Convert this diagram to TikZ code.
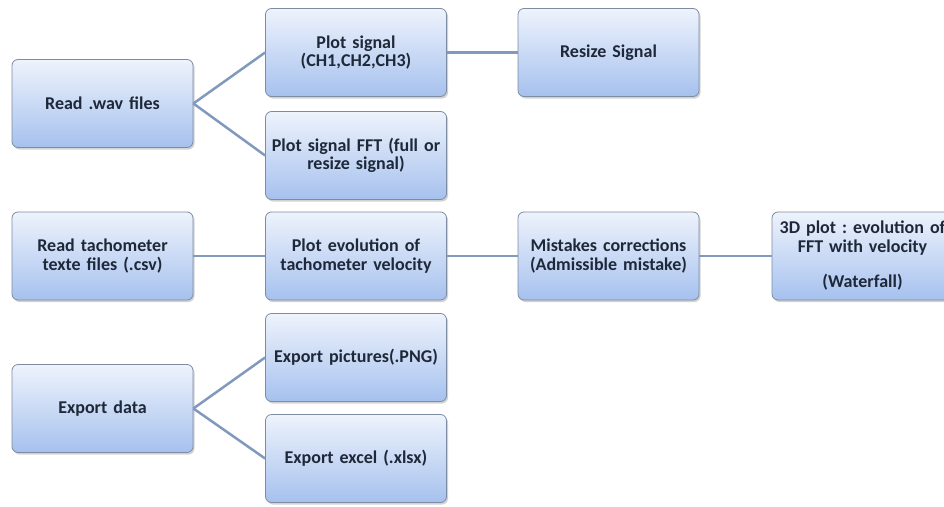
\documentclass[tikz,border=0pt]{standalone}
\usepackage{fontspec}
\setmainfont{Carlito}
\usetikzlibrary{shadows}
\definecolor{boxtop}{HTML}{EEF3FC}
\definecolor{boxbot}{HTML}{A6C1EE}
\definecolor{boxline}{HTML}{7D8CA3}
\definecolor{linkcol}{HTML}{8099BD}
\definecolor{txtcol}{HTML}{1E2838}

\tikzset{
  task/.style={draw=boxline, line width=0.8pt, rounded corners=6pt,
    top color=boxtop, bottom color=boxbot,
    minimum width=181pt, minimum height=88pt, text width=175pt, inner xsep=3pt,
    align=center, font=\bfseries\fontsize{18}{18.5}\selectfont\frenchspacing, text=txtcol,
    drop shadow={opacity=0.35, shadow xshift=1.5pt, shadow yshift=-2pt}},
  link/.style={draw=linkcol, line width=2.5pt}
}

\begin{document}
\begin{tikzpicture}[x=1pt, y=-1pt]
      \fill[white] (0, 0) rectangle (944, 506);
      \useasboundingbox (0, 0) rectangle (944, 506);
      % reading the sound files
      \node[task] (readwav) at (102.5, 103.5) {Read .wav files};
      \node[task] (plotsig) at (356, 52.5) {Plot signal\\(CH1,CH2,CH3)};
      \node[task] (plotfft) at (356, 155.5) {\mbox{Plot signal FFT (full or}\\resize signal)};
      \node[task] (resize) at (608.5, 52.5) {Resize Signal};
      % tachometer row
      \node[task] (readtach) at (102.5, 256) {Read tachometer\\texte files (.csv)};
      \node[task] (plotvel) at (356, 256) {Plot evolution of\\tachometer velocity};
      \node[task] (mistakes) at (608.5, 256) {Mistakes corrections\\(Admissible mistake)};
      \node[task] (waterfall) at (862.5, 256) {\makebox[\linewidth]{3D plot : evolution of}\\FFT with velocity\\[17pt](Waterfall)};
      % export
      \node[task] (export) at (102.5, 408.5) {Export data};
      \node[task] (exportpng) at (356, 357.5) {Export pictures(.PNG)};
      \node[task] (exportxls) at (356, 458.5) {Export excel (.xlsx)};
      \draw[link] (readwav.east) -- (plotsig.west);
      \draw[link] (readwav.east) -- (plotfft.west);
      \draw[link] (plotsig.east) -- (resize.west);
      \draw[link] (readtach.east) -- (plotvel.west);
      \draw[link] (plotvel.east) -- (mistakes.west);
      \draw[link] (mistakes.east) -- (waterfall.west);
      \draw[link] (export.east) -- (exportpng.west);
      \draw[link] (export.east) -- (exportxls.west);
    \end{tikzpicture}
\end{document}
